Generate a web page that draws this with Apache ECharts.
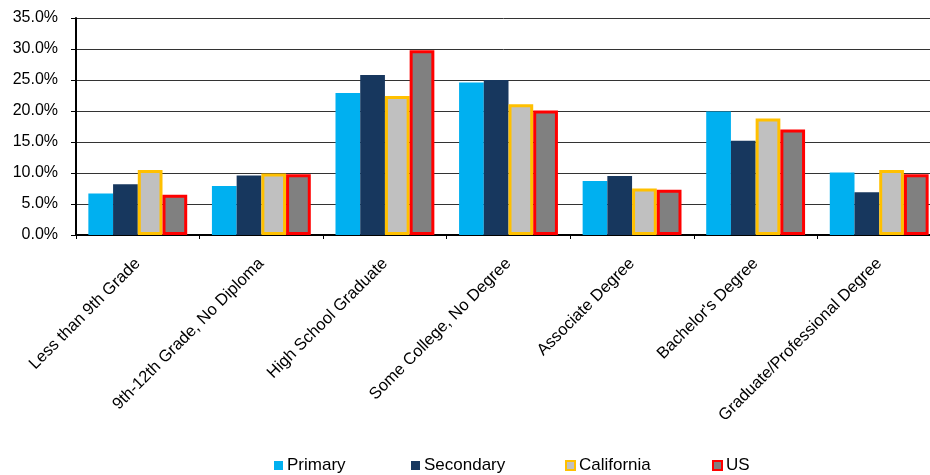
<!DOCTYPE html>
<html>
<head>
<meta charset="utf-8">
<script src="https://cdn.jsdelivr.net/npm/echarts@6/dist/echarts.min.js"></script>
<style>
html,body{margin:0;padding:0;background:#fff;}
#chart{width:930px;height:475px;}
</style>
</head>
<body>
<div id="chart"></div>
<script>
var categories = ["Less than 9th Grade", "9th-12th Grade, No Diploma", "High School Graduate", "Some College, No Degree", "Associate Degree", "Bachelor's Degree", "Graduate/Professional Degree"];
var primary    = [6.7, 7.9, 22.9, 24.6, 8.7, 19.9, 10.1];
var secondary  = [8.2, 9.6, 25.8, 25.0, 9.5, 15.2, 6.9];
var california = [10.5, 9.9, 22.4, 21.1, 7.5, 18.8, 10.5];
var us         = [6.5, 9.8, 29.8, 20.1, 7.3, 17.0, 9.8];
var seriesNames = ["Primary", "Secondary", "California", "US"];
var yTicks = [0, 5, 10, 15, 20, 25, 30, 35];

var FONT = "Liberation Sans, Arial, sans-serif";
var chart = echarts.init(document.getElementById('chart'), null, {renderer: 'canvas'});

function legendAt(name, left) {
  return {
    data: [name], left: left, top: 452, itemWidth: 9, itemHeight: 9, itemGap: 0,
    icon: 'rect',
    textStyle: {fontFamily: FONT, fontSize: 17, color: '#000', padding: [0, 0, 0, -1]}
  };
}

var option = {
  animation: false,
  backgroundColor: '#fff',
  grid: {left: 76, width: 865, top: 18, height: 217, containLabel: false, outerBoundsMode: 'none'},
  legend: [
    legendAt(seriesNames[0], 269),
    legendAt(seriesNames[1], 406),
    legendAt(seriesNames[2], 560),
    legendAt(seriesNames[3], 707)
  ],
  xAxis: {
    type: 'category',
    data: categories,
    axisLine: {lineStyle: {color: '#000', width: 2}},
    axisTick: {show: true, length: 4, lineStyle: {color: '#000', width: 1}},
    axisLabel: {rotate: 45, margin: 26, fontFamily: FONT, fontSize: 16.5, color: '#000', interval: 0}
  },
  yAxis: {
    type: 'value',
    min: yTicks[0], max: yTicks[yTicks.length - 1], interval: 5,
    axisLine: {show: true, lineStyle: {color: '#000', width: 2}},
    axisTick: {show: true, length: 5, lineStyle: {color: '#000'}},
    splitLine: {lineStyle: {color: '#333', width: 1}},
    axisLabel: {margin: 18, fontFamily: FONT, fontSize: 16, color: '#000',
      formatter: function (v) { return v.toFixed(1) + '%'; }}
  },
  series: [
    {name: seriesNames[0], type: 'bar', data: primary, barGap: '0%', barCategoryGap: '20%',
      itemStyle: {color: '#00B0F0'}},
    {name: seriesNames[1], type: 'bar', data: secondary, barGap: '0%', barCategoryGap: '20%',
      itemStyle: {color: '#17375E'}},
    {name: seriesNames[2], type: 'bar', data: california, barGap: '0%', barCategoryGap: '20%',
      itemStyle: {color: '#C0C0C0', borderColor: '#FFC000', borderWidth: 3}},
    {name: seriesNames[3], type: 'bar', data: us, barGap: '0%', barCategoryGap: '20%',
      itemStyle: {color: '#808080', borderColor: '#FF0000', borderWidth: 3}}
  ]
};
chart.setOption(option);
</script>
</body>
</html>
